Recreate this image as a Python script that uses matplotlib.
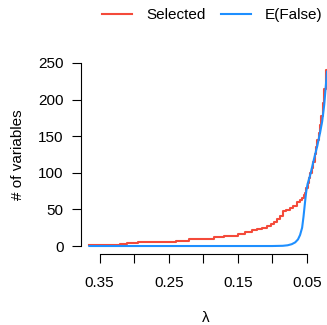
import matplotlib.pyplot as plt
import numpy as np

plt.rcParams['font.family'] = ['Liberation Sans', 'DejaVu Sans']

# Selected variables (step curve) vs lambda
lam_sel = [0.365, 0.340, 0.320, 0.310, 0.295, 0.280, 0.260, 0.240, 0.220, 0.200,
           0.185, 0.170, 0.160, 0.150, 0.140, 0.130, 0.122, 0.115, 0.108, 0.102,
           0.097, 0.093, 0.089, 0.085, 0.080, 0.075, 0.070, 0.065, 0.060, 0.057,
           0.055, 0.053, 0.051, 0.049, 0.047, 0.045, 0.043, 0.041, 0.039, 0.037,
           0.035, 0.033, 0.031, 0.029, 0.027, 0.025, 0.023, 0.021]
n_sel = [1, 1, 2, 3, 4, 5, 6, 6, 7, 9,
         10, 12, 13, 14, 16, 19, 22, 23, 25, 27,
         30, 33, 37, 41, 48, 49, 52, 55, 60, 63,
         66, 69, 73, 79, 86, 93, 100, 107, 115, 125,
         135, 145, 155, 165, 178, 195, 215, 240]

# Expected false selections
lam_false = [0.365, 0.100, 0.085, 0.078, 0.072, 0.067, 0.063, 0.060, 0.057, 0.055,
             0.053, 0.051, 0.049, 0.045, 0.040, 0.035, 0.031, 0.028, 0.025, 0.021]
n_false = [0, 0, 0.3, 1, 2.5, 5, 9, 15, 25, 40,
           58, 75, 85, 98, 118, 137, 155, 170, 193, 238]

xticks = [0.35, 0.30, 0.25, 0.20, 0.15, 0.10, 0.05]
xticklabels = ['0.35', '', '0.25', '', '0.15', '', '0.05']
yticks = [0, 50, 100, 150, 200, 250]

fig = plt.figure(figsize=(3.27, 3.25), dpi=100)
ax = fig.add_axes([81 / 327, 71 / 325, 246 / 327, 194 / 325])

ax.plot(lam_sel, n_sel, color='#F44A3A', lw=1.5, drawstyle='steps-pre', label='Selected')
ax.plot(lam_false, n_false, color='#1E8FFF', lw=1.5, label='E(False)')

ax.set_xlim(0.377, 0.021)
ax.set_ylim(-10.9, 254)

for s in ['top', 'right']:
    ax.spines[s].set_visible(False)
ax.spines['left'].set_bounds(0, 250)
ax.spines['bottom'].set_bounds(0.35, 0.05)

ax.set_xticks(xticks)
ax.set_xticklabels(xticklabels)
ax.set_yticks(yticks)
ax.tick_params(axis='both', labelsize=11, length=6.5, width=0.8)
ax.tick_params(axis='y', pad=6)
ax.tick_params(axis='x', pad=9)

fig.text(18 / 327, 1 - 155 / 325, '# of variables', rotation=90,
         ha='center', va='center', fontsize=11)
fig.text(206 / 327, 1 - 318 / 325, 'λ', ha='center', va='center', fontsize=11)

fig.legend(loc='center', bbox_to_anchor=(212 / 327, 1 - 15 / 325), ncol=2,
           frameon=False, fontsize=11, handlelength=2.0, handletextpad=0.9,
           columnspacing=1.0)

plt.savefig('out.png', dpi=100)
